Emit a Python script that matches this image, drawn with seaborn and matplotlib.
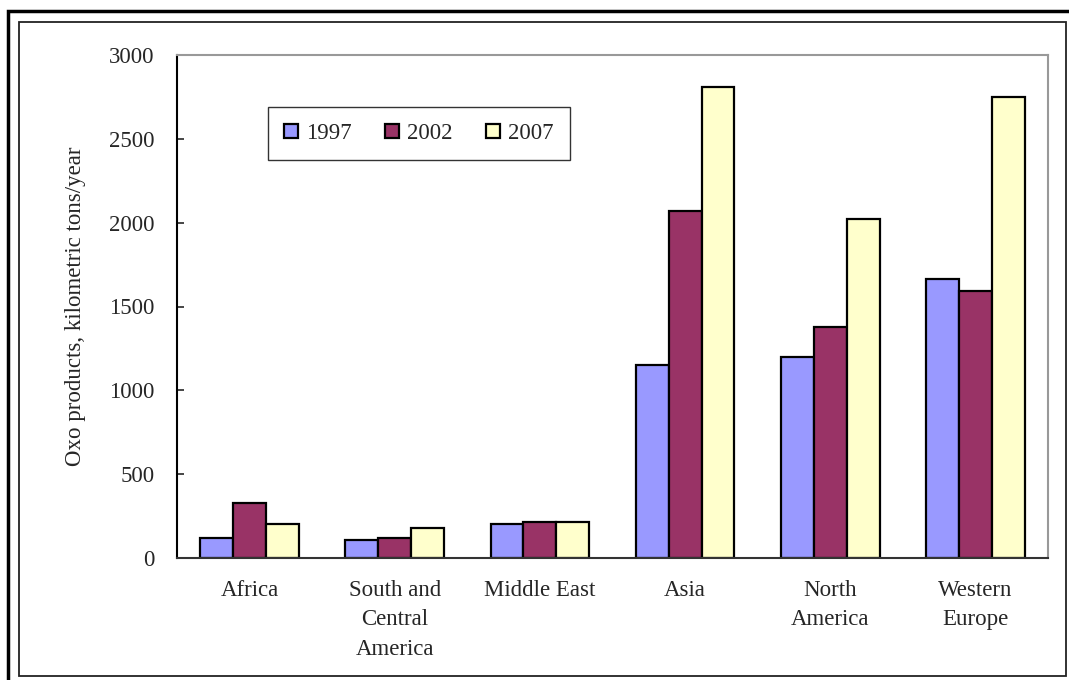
import matplotlib
matplotlib.use("Agg")
import matplotlib.pyplot as plt
from matplotlib.patches import Rectangle
import seaborn as sns
import pandas as pd

regions = ["Africa", "South and\nCentral\nAmerica", "Middle East", "Asia",
           "North\nAmerica", "Western\nEurope"]
years = ["1997", "2002", "2007"]
values_1997 = [120, 105, 200, 1150, 1200, 1665]
values_2002 = [330, 120, 215, 2070, 1380, 1590]
values_2007 = [200, 180, 215, 2810, 2020, 2750]
y_ticks = [0, 500, 1000, 1500, 2000, 2500, 3000]
y_label = "Oxo products, kilometric tons/year"
colors = ["#9999FF", "#993366", "#FFFFCC"]

rows = []
for yr, vals in zip(years, [values_1997, values_2002, values_2007]):
    for reg, v in zip(regions, vals):
        rows.append({"region": reg, "year": yr, "value": v})
df = pd.DataFrame(rows)

sns.set_style("white")
plt.rcParams["font.family"] = ["Liberation Serif", "DejaVu Serif"]

FS = 16.5

fig = plt.figure(figsize=(10.69, 6.8), dpi=100)
ax = fig.add_axes([177 / 1069, 1 - 558 / 680, (1048 - 177) / 1069, (558 - 55) / 680])

sns.barplot(data=df, x="region", y="value", hue="year", order=regions,
            hue_order=years, palette=colors, width=0.68, gap=0,
            edgecolor="black", linewidth=1.6, saturation=1, ax=ax)

ax.set_ylim(0, 3000)
ax.set_xlim(-0.5, len(regions) - 0.5)
ax.set_yticks(y_ticks)
ax.set_yticklabels([str(t) for t in y_ticks], fontsize=FS)
ax.tick_params(axis="y", direction="in", length=5, width=1.2, left=True, pad=16)
ax.tick_params(axis="x", bottom=False, labelsize=FS, pad=12)
for lbl in ax.get_xticklabels():
    lbl.set_linespacing(1.55)
ax.set_xlabel("")
ax.set_ylabel(y_label, fontsize=FS, labelpad=17)

ax.spines["left"].set_color("black")
ax.spines["left"].set_linewidth(1.5)
ax.spines["bottom"].set_color("#333333")
ax.spines["bottom"].set_linewidth(1.5)
for side in ["top", "right"]:
    ax.spines[side].set_color("#999999")
    ax.spines[side].set_linewidth(1.5)

handles, labels = ax.get_legend_handles_labels()
ax.legend(handles, labels, loc="upper left",
          bbox_to_anchor=(268 / 1069, 1 - 107 / 680), bbox_transform=fig.transFigure,
          ncol=3, frameon=True, fancybox=False, edgecolor="black", fontsize=FS,
          handlelength=0.62, handleheight=0.62, handletextpad=0.35,
          columnspacing=1.45, borderpad=0.7, borderaxespad=0)
leg = ax.get_legend()
leg.get_frame().set_linewidth(1.0)
for h in leg.legend_handles:
    h.set_edgecolor("black")
    h.set_linewidth(1.6)

# Double outer frame around the whole chart
fig.patches.append(Rectangle((8 / 1069, -0.05), 1.2, 1 - 11 / 680 + 0.05,
                             transform=fig.transFigure, fill=False,
                             edgecolor="black", linewidth=2.5))
fig.patches.append(Rectangle((19 / 1069, 1 - 676 / 680), (1066 - 19) / 1069,
                             (676 - 22) / 680, transform=fig.transFigure,
                             fill=False, edgecolor="#222222", linewidth=1.3))

fig.savefig("out.png", dpi=100)
